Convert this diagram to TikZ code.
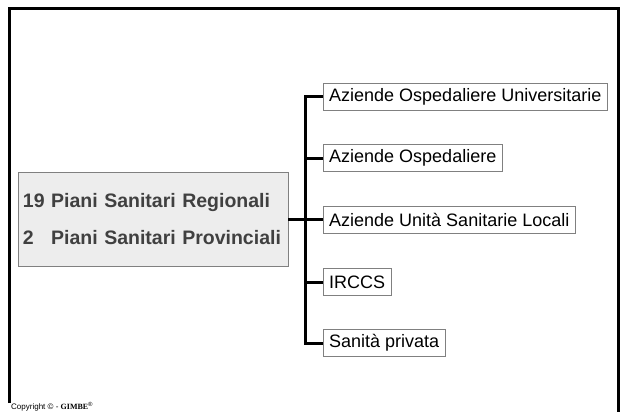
\documentclass[tikz,border=0pt]{standalone}
\usepackage{fontspec}
\setmainfont{Liberation Sans}
\newfontfamily\gimbefont{Liberation Serif}
\usetikzlibrary{positioning}
\definecolor{boxgray}{HTML}{EDEDED}
\definecolor{rimgray}{HTML}{808080}
\definecolor{textgray}{HTML}{404040}

\begin{document}
\begin{tikzpicture}[x=1pt,y=-1pt,line join=miter,
	plan/.style={draw=rimgray,fill=boxgray,text=textgray,font=\fontsize{19.5}{37}\selectfont\bfseries,align=left,text width=260pt,minimum height=94pt,inner xsep=5pt},
	leaf/.style={draw=rimgray,fill=white,font=\fontsize{18}{20}\selectfont,anchor=west,minimum height=27pt,inner xsep=6pt,inner ysep=0pt},
	fork/.style={line width=3pt,to path={-- (spine |- \tikztostart) |- (\tikztotarget)}},
	frame/.style={line width=3pt}]

	\useasboundingbox (0,0) rectangle (627,412);
	\draw[frame] (9.5,403) -- (9.5,9) -- (618,9) -- (618,412);

	\node[plan] (plans) at (153,219.5) {19 Piani Sanitari Regionali\\2\hphantom{9} Piani Sanitari Provinciali};
	\coordinate (spine) at (305,219.5);
	\node[leaf] (aou)   at (323,97)    {Aziende Ospedaliere Universitarie};
	\node[leaf] (ao)    at (323,158)   {Aziende Ospedaliere};
	\node[leaf] (ausl)  at (323,219.5) {Aziende Unità Sanitarie Locali};
	\node[leaf] (irccs) at (323,282)   {IRCCS};
	\node[leaf] (priv)  at (323,343)   {Sanità privata};

	\path (plans.east) edge[fork] (aou.west)
				edge[fork] (ao.west)
				edge[fork] (ausl.west)
				edge[fork] (irccs.west)
				edge[fork] (priv.west);

	\node[anchor=base west,inner sep=0pt,font=\fontsize{8}{9}\selectfont] (copy) at (11,409.5) {Copyright © - {\gimbefont\bfseries GIMBE}\textsuperscript{®}};

\end{tikzpicture}
\end{document}
